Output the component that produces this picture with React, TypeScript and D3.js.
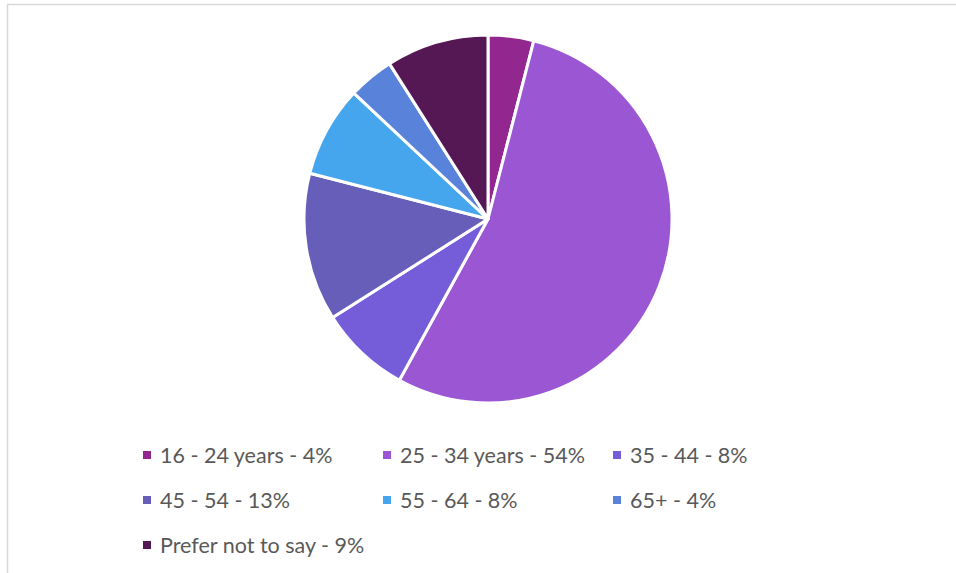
import React, { useEffect, useRef } from 'react';
import * as d3 from 'd3';

// Age groups and their shares (%)
const CATEGORIES = ['16 - 24 years', '25 - 34 years', '35 - 44', '45 - 54', '55 - 64', '65+', 'Prefer not to say'];
const VALUES = [4, 54, 8, 13, 8, 4, 9];
const COLORS = ['#92278f', '#9b57d3', '#755dd9', '#665eb8', '#45a5ed', '#5982db', '#561755'];

const W = 956;
const H = 573;

const App: React.FC = () => {
  const svgRef = useRef<SVGSVGElement>(null);

  useEffect(() => {
    if (!svgRef.current) return;
    const svg = d3.select(svgRef.current);
    svg.selectAll('*').remove();

    svg.append('rect').attr('width', W).attr('height', H).attr('fill', '#fff');

    // chart frame (only top/left visible)
    svg.append('rect')
      .attr('x', 7.5)
      .attr('y', 4.5)
      .attr('width', W + 20)
      .attr('height', H + 20)
      .attr('fill', 'none')
      .attr('stroke', '#d9d9d9')
      .attr('stroke-width', 1.5);

    const data = CATEGORIES.map((c, i) => ({ label: c, value: VALUES[i], color: COLORS[i] }));

    const pie = d3.pie<{ label: string; value: number; color: string }>()
      .sort(null)
      .value((d) => d.value);

    const radius = 184;
    const arc = d3.arc<d3.PieArcDatum<{ label: string; value: number; color: string }>>()
      .innerRadius(0)
      .outerRadius(radius);

    const pieG = svg.append('g').attr('transform', `translate(488,219)`);
    pieG.selectAll('path')
      .data(pie(data))
      .enter()
      .append('path')
      .attr('d', arc)
      .attr('fill', (d) => d.data.color)
      .attr('stroke', '#fff')
      .attr('stroke-width', 3)
      .attr('stroke-linejoin', 'round');

    // legend: 3 columns
    const colX = [143, 383, 613];
    const rowY = [455, 500, 545];
    const legend = svg.append('g');
    data.forEach((d, i) => {
      const x = colX[i % 3];
      const y = rowY[Math.floor(i / 3)];
      legend.append('rect')
        .attr('x', x)
        .attr('y', y - 4)
        .attr('width', 8)
        .attr('height', 8)
        .attr('fill', d.color);
      legend.append('text')
        .attr('x', x + 17)
        .attr('y', y + 8)
        .attr('fill', '#595959')
        .attr('font-family', 'Lato, "Open Sans", sans-serif')
        .attr('font-size', '21.5px')
        .text(`${d.label} - ${d.value}%`);
    });
  }, []);

  return (
    <svg
      ref={svgRef}
      width={W}
      height={H}
      style={{ position: 'absolute', left: 0, top: 0, display: 'block' }}
    />
  );
};

export default App;
